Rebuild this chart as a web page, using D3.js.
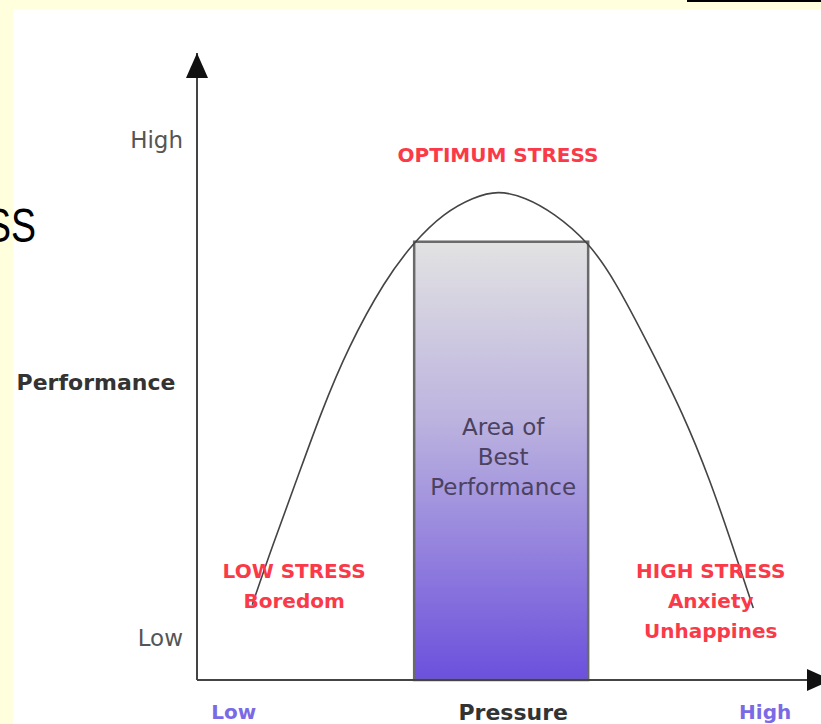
<!DOCTYPE html>
<meta charset="utf-8">
<script src="https://d3js.org/d3.v7.min.js"></script>
<style>
  body { margin: 0; background: #ffffdd; }
  svg { display: block; }
</style>
<body>
<div id="chart"></div>
<script>
// curve: pressure (x) vs performance (y), both on a 0-10 scale
var pressure    = [0.87, 1.18, 1.57, 1.95, 2.38, 2.96, 3.42, 3.89, 4.35, 4.74, 5.17, 5.62, 6.16, 6.58, 7.13, 7.65, 8.08, 8.44, 8.68, 8.76];
var performance = [1.20, 2.12, 3.19, 4.26, 5.31, 6.38, 6.99, 7.45, 7.70, 7.81, 7.70, 7.45, 6.99, 6.38, 5.31, 4.26, 3.19, 2.12, 1.39, 1.15];

// zone of best performance
var zoneStart = 3.42, zoneEnd = 6.16, zoneTop = 6.99;

// tick labels
var yTickValues = [8.61, 0.66];
var yTickLabels = ["High", "Low"];
var xTickValues = [0.57, 8.94];
var xTickLabels = ["Low", "High"];

// stress labels
var stressX     = [4.74, 1.53, 8.09];
var stressY     = [8.26, 1.63, 1.63];
var stressLines = [["OPTIMUM STRESS"], ["LOW STRESS", "Boredom"], ["HIGH STRESS", "Anxiety", "Unhappines"]];
var zoneLines   = ["Area of", "Best", "Performance"];

var W = 821, H = 724;

var svg = d3.select("#chart").append("svg")
    .attr("width", W)
    .attr("height", H);

// slide backdrop
svg.append("rect").attr("width", W).attr("height", H).attr("fill", "#ffffdd");
svg.append("rect").attr("x", 13).attr("y", 9).attr("width", W - 13).attr("height", H - 9).attr("fill", "#ffffff");
svg.append("rect").attr("x", 687).attr("y", 0).attr("width", W - 687).attr("height", 2).attr("fill", "#000");
svg.append("text")
    .attr("x", 36).attr("y", 242)
    .attr("text-anchor", "end")
    .attr("textLength", 50)
    .attr("lengthAdjust", "spacingAndGlyphs")
    .style("font-family", "'Liberation Sans', Arial, sans-serif")
    .style("font-size", "48px")
    .attr("fill", "#000")
    .text("SS");

var x = d3.scaleLinear().domain([0, 10]).range([197, 832]);
var y = d3.scaleLinear().domain([0, 10]).range([680, 53]);

var defs = svg.append("defs");

var grad = defs.append("linearGradient")
    .attr("id", "zoneGrad")
    .attr("x1", 0).attr("y1", 0).attr("x2", 0).attr("y2", 1);
grad.append("stop").attr("offset", "0%").attr("stop-color", "#e2e2e2");
grad.append("stop").attr("offset", "40%").attr("stop-color", "#bdb4df");
grad.append("stop").attr("offset", "100%").attr("stop-color", "#6b50dc");

defs.append("marker")
    .attr("id", "arrow")
    .attr("markerUnits", "userSpaceOnUse")
    .attr("viewBox", "0 -11 25 22")
    .attr("markerWidth", 25)
    .attr("markerHeight", 22)
    .attr("refX", 25)
    .attr("refY", 0)
    .attr("orient", "auto")
  .append("path")
    .attr("d", "M0,-11L25,0L0,11Z")
    .attr("fill", "#111");

// zone rectangle
svg.append("rect")
    .attr("x", x(zoneStart))
    .attr("y", y(zoneTop))
    .attr("width", x(zoneEnd) - x(zoneStart))
    .attr("height", y(0) - y(zoneTop))
    .attr("fill", "url(#zoneGrad)")
    .attr("stroke", "#6a6a6a")
    .attr("stroke-width", 2.5);

svg.selectAll(".zoneText")
    .data(zoneLines)
  .enter().append("text")
    .attr("class", "zoneText")
    .attr("x", (x(zoneStart) + x(zoneEnd)) / 2 + 2)
    .attr("y", function(d, i) { return y(3.91) + i * 30; })
    .attr("text-anchor", "middle")
    .style("font-family", "'DejaVu Sans', sans-serif")
    .style("font-size", "23px")
    .attr("fill", "#4a4260")
    .text(function(d) { return d; });

// curve
var pts = pressure.map(function(p, i) { return [p, performance[i]]; });
var line = d3.line()
    .x(function(d) { return x(d[0]); })
    .y(function(d) { return y(d[1]); })
    .curve(d3.curveBasis);

svg.append("path")
    .datum(pts)
    .attr("d", line)
    .attr("fill", "none")
    .attr("stroke", "#444")
    .attr("stroke-width", 1.6);

// axes
var yAxis = svg.append("g")
    .attr("transform", "translate(" + x(0) + ",0)")
    .call(d3.axisLeft(y)
      .tickValues(yTickValues)
      .tickFormat(function(d, i) { return yTickLabels[i]; })
      .tickSize(0)
      .tickPadding(14));
yAxis.select(".domain").remove();
yAxis.selectAll("text")
    .style("font-family", "'DejaVu Sans', sans-serif")
    .style("font-size", "23px")
    .attr("fill", "#555");

var xAxis = svg.append("g")
    .attr("transform", "translate(0," + y(0) + ")")
    .call(d3.axisBottom(x)
      .tickValues(xTickValues)
      .tickFormat(function(d, i) { return xTickLabels[i]; })
      .tickSize(0)
      .tickPadding(25));
xAxis.select(".domain").remove();
xAxis.selectAll("text")
    .style("font-family", "'DejaVu Sans', sans-serif")
    .style("font-weight", "bold")
    .style("font-size", "20px")
    .attr("fill", "#7a6ae6");

svg.append("line")
    .attr("x1", x(0)).attr("y1", y(0))
    .attr("x2", x(0)).attr("y2", y(10))
    .attr("stroke", "#444").attr("stroke-width", 2)
    .attr("marker-end", "url(#arrow)");
svg.append("line")
    .attr("x1", x(0)).attr("y1", y(0))
    .attr("x2", x(10)).attr("y2", y(0))
    .attr("stroke", "#444").attr("stroke-width", 2)
    .attr("marker-end", "url(#arrow)");

// axis titles
svg.append("text")
    .attr("x", 96).attr("y", 390)
    .attr("text-anchor", "middle")
    .style("font-family", "'DejaVu Sans', sans-serif")
    .style("font-weight", "bold")
    .style("font-size", "22px")
    .attr("fill", "#333")
    .text("Performance");
svg.append("text")
    .attr("x", x(4.98)).attr("y", 720)
    .attr("text-anchor", "middle")
    .style("font-family", "'DejaVu Sans', sans-serif")
    .style("font-weight", "bold")
    .style("font-size", "22px")
    .attr("fill", "#333")
    .text("Pressure");

// stress labels
stressLines.forEach(function(lines, k) {
  svg.selectAll(".stress" + k)
      .data(lines)
    .enter().append("text")
      .attr("class", "stress" + k)
      .attr("x", x(stressX[k]))
      .attr("y", function(d, i) { return y(stressY[k]) + i * 30; })
      .attr("text-anchor", "middle")
      .style("font-family", "'DejaVu Sans', sans-serif")
      .style("font-weight", "bold")
      .style("font-size", "20px")
      .attr("fill", "#fa3a48")
      .text(function(d) { return d; });
});
</script>
</body>
